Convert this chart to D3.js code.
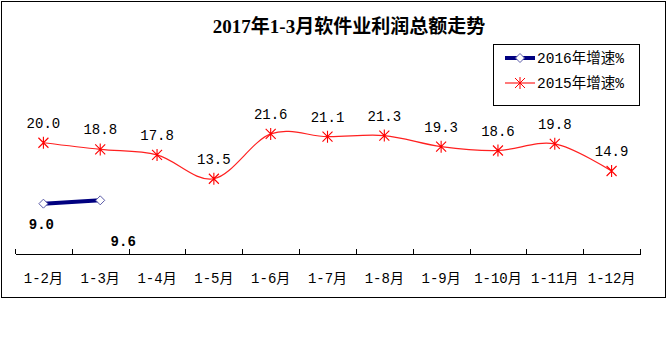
<!DOCTYPE html>
<html>
<head>
<meta charset="utf-8">
<script src="https://cdn.jsdelivr.net/npm/d3@7"></script>
<style>
  body { margin: 0; background: #fff; }
  svg { display: block; }
</style>
</head>
<body>
<div id="chart"></div>
<script>
// chart data
var months = ["1-2月", "1-3月", "1-4月", "1-5月", "1-6月", "1-7月", "1-8月", "1-9月", "1-10月", "1-11月", "1-12月"];
var growth2016 = [9.0, 9.6];
var growth2015 = [20.0, 18.8, 17.8, 13.5, 21.6, 21.1, 21.3, 19.3, 18.6, 19.8, 14.9];
var seriesNames = ["2016年增速%", "2015年增速%"];
var titleText = "2017年1-3月软件业利润总额走势";

var monoFont = "'Liberation Mono', 'Noto Sans CJK SC', monospace";

var svg = d3.select("#chart")
	.append("svg")
		.attr("width", 669)
		.attr("height", 362);

// outer frame
svg.append("rect")
	.attr("x", 1.5).attr("y", 1.5)
	.attr("width", 664).attr("height", 296)
	.attr("fill", "none")
	.attr("stroke", "#000")
	.attr("stroke-width", 1);

// title
svg.append("text")
	.attr("x", 349)
	.attr("y", 33)
	.attr("text-anchor", "middle")
	.attr("font-family", "'Liberation Serif', 'Noto Sans CJK SC', serif")
	.attr("font-weight", "bold")
	.attr("font-size", "19px")
	.attr("fill", "#000")
	.text(titleText);

// scales
var xBand = d3.scaleBand()
	.domain(months)
	.range([15, 640])
	.padding(0);
var xEdge = d3.scaleLinear()
	.domain([0, months.length])
	.range([15, 640]);
var yScale = d3.scaleLinear()
	.domain([0, 40])
	.range([253.5, 32]);

function cx(i) { return xBand(months[i]) + xBand.bandwidth() / 2; }

// x axis: line with upward ticks at category edges
var axisG = svg.append("g")
	.attr("transform", "translate(0," + yScale(0) + ")")
	.call(d3.axisBottom(xEdge)
		.tickValues(d3.range(months.length + 1))
		.tickSize(-5)
		.tickSizeOuter(0)
		.tickFormat(""));
axisG.selectAll("path, line").attr("stroke", "#000").attr("shape-rendering", "crispEdges");

// category labels
var labelG = svg.append("g")
	.attr("transform", "translate(0,283)")
	.call(d3.axisBottom(xBand).tickSize(0).tickPadding(0));
labelG.select(".domain").remove();
labelG.selectAll("text")
	.attr("dy", 0)
	.attr("font-family", monoFont)
	.attr("font-size", "14px")
	.attr("fill", "#000");

// 2015 series: smoothed red line with star markers
var line = d3.line()
	.x(function(d, i) { return cx(i); })
	.y(function(d) { return yScale(d); })
	.curve(d3.curveCardinal.tension(0));

svg.append("path")
	.datum(growth2015)
	.attr("d", line)
	.attr("fill", "none")
	.attr("stroke", "#ff2020")
	.attr("stroke-width", 1.2);

var star = "M-5,-5L5,5M-5,5L5,-5M0,-6L0,6";
svg.append("g").selectAll("path")
	.data(growth2015)
	.enter()
	.append("path")
		.attr("transform", function(d, i) { return "translate(" + cx(i) + "," + yScale(d) + ")"; })
		.attr("d", star)
		.attr("stroke", "#ff0000")
		.attr("stroke-width", 1.1)
		.attr("fill", "none");

svg.append("g").selectAll("text")
	.data(growth2015)
	.enter()
	.append("text")
		.attr("x", function(d, i) { return cx(i); })
		.attr("y", function(d) { return yScale(d) - 15; })
		.attr("text-anchor", "middle")
		.attr("font-family", monoFont)
		.attr("font-size", "14px")
		.attr("fill", "#000")
		.text(function(d) { return d.toFixed(1); });

// 2016 series: thick navy line with hollow diamonds
var line16 = d3.line()
	.x(function(d, i) { return cx(i); })
	.y(function(d) { return yScale(d); });

svg.append("path")
	.datum(growth2016)
	.attr("d", line16)
	.attr("fill", "none")
	.attr("stroke", "#000080")
	.attr("stroke-width", 4);

var diamond = "M0,-4.5L4.5,0L0,4.5L-4.5,0Z";
svg.append("g").selectAll("path")
	.data(growth2016)
	.enter()
	.append("path")
		.attr("transform", function(d, i) { return "translate(" + cx(i) + "," + yScale(d) + ")"; })
		.attr("d", diamond)
		.attr("fill", "#fff")
		.attr("stroke", "#5a5aa8")
		.attr("stroke-width", 1);

// 2016 labels sit below, the second one pushed off to the right
var offs16 = [[-2, 25], [23, 46]];
svg.append("g").selectAll("text")
	.data(growth2016)
	.enter()
	.append("text")
		.attr("x", function(d, i) { return cx(i) + offs16[i][0]; })
		.attr("y", function(d, i) { return yScale(d) + offs16[i][1]; })
		.attr("text-anchor", "middle")
		.attr("font-family", monoFont)
		.attr("font-weight", "bold")
		.attr("font-size", "14px")
		.attr("fill", "#000")
		.text(function(d) { return d.toFixed(1); });

// legend
var legend = svg.append("g");
legend.append("rect")
	.attr("x", 493.5).attr("y", 44.5)
	.attr("width", 146).attr("height", 61)
	.attr("fill", "#fff")
	.attr("stroke", "#000");

var lg1 = legend.append("g").attr("transform", "translate(520,58)");
lg1.append("line").attr("x1", -15).attr("x2", 15)
	.attr("stroke", "#000080").attr("stroke-width", 4);
lg1.append("path").attr("d", diamond)
	.attr("fill", "#fff").attr("stroke", "#5a5aa8");

var lg2 = legend.append("g").attr("transform", "translate(520,83)");
lg2.append("line").attr("x1", -15).attr("x2", 15)
	.attr("stroke", "#ff2020").attr("stroke-width", 1.2);
lg2.append("path").attr("d", star)
	.attr("stroke", "#ff0000").attr("fill", "none");

legend.selectAll("text.lg")
	.data(seriesNames)
	.enter()
	.append("text")
		.attr("class", "lg")
		.attr("x", 537)
		.attr("y", function(d, i) { return 63 + i * 25; })
		.attr("font-family", monoFont)
		.attr("font-size", "14.5px")
		.attr("fill", "#000")
		.text(function(d) { return d; });
</script>
</body>
</html>
